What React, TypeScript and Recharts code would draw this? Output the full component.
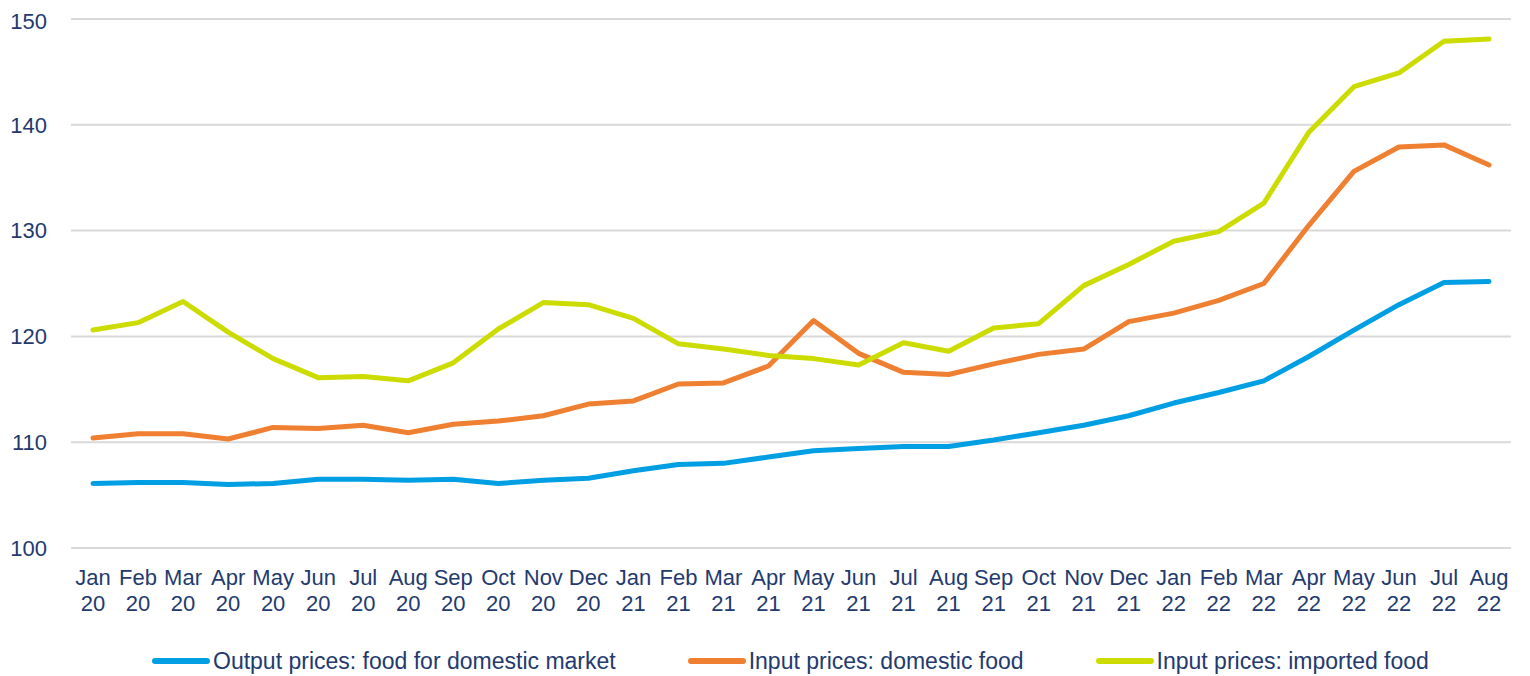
import { LineChart, Line, XAxis, YAxis, CartesianGrid, Legend } from 'recharts';

const months = [
    'Jan 20', 'Feb 20', 'Mar 20', 'Apr 20', 'May 20', 'Jun 20', 'Jul 20', 'Aug 20', 'Sep 20', 'Oct 20', 'Nov 20', 'Dec 20',
    'Jan 21', 'Feb 21', 'Mar 21', 'Apr 21', 'May 21', 'Jun 21', 'Jul 21', 'Aug 21', 'Sep 21', 'Oct 21', 'Nov 21', 'Dec 21',
    'Jan 22', 'Feb 22', 'Mar 22', 'Apr 22', 'May 22', 'Jun 22', 'Jul 22', 'Aug 22',
];

const outputDomestic = [
    106.1, 106.2, 106.2, 106.0, 106.1, 106.5, 106.5, 106.4, 106.5, 106.1, 106.4, 106.6,
    107.3, 107.9, 108.0, 108.6, 109.2, 109.4, 109.6, 109.6, 110.2, 110.9, 111.6, 112.5,
    113.7, 114.7, 115.8, 118.1, 120.6, 123.0, 125.1, 125.2,
];

const inputDomestic = [
    110.4, 110.8, 110.8, 110.3, 111.4, 111.3, 111.6, 110.9, 111.7, 112.0, 112.5, 113.6,
    113.9, 115.5, 115.6, 117.2, 121.5, 118.4, 116.6, 116.4, 117.4, 118.3, 118.8, 121.4,
    122.2, 123.4, 125.0, 130.5, 135.6, 137.9, 138.1, 136.2,
];

const inputImported = [
    120.6, 121.3, 123.3, 120.4, 117.9, 116.1, 116.2, 115.8, 117.5, 120.7, 123.2, 123.0,
    121.7, 119.3, 118.8, 118.2, 117.9, 117.3, 119.4, 118.6, 120.8, 121.2, 124.8, 126.8,
    129.0, 129.9, 132.6, 139.3, 143.6, 144.9, 147.9, 148.1,
];

const yTicks = [100, 110, 120, 130, 140, 150];

const seriesNames = [
    'Output prices: food for domestic market',
    'Input prices: domestic food',
    'Input prices: imported food',
];

const data = months.map((m, i) => ({
    month: m,
    output: outputDomestic[i],
    inputDom: inputDomestic[i],
    inputImp: inputImported[i],
}));

const textColor = '#233a6e';
const font = '"Liberation Sans", Arial, sans-serif';

const MonthTick = (props: any) => {
    const { x, y, payload } = props;
    const [mon, yr] = String(payload.value).split(' ');
    return (
        <text x={x} y={y} textAnchor="middle" fill={textColor} fontSize={22} fontFamily={font}>
            <tspan x={x} dy={29}>{mon}</tspan>
            <tspan x={x} dy={26}>{yr}</tspan>
        </text>
    );
};

const LegendContent = (props: any) => {
    const items = [...(props.payload || [])].sort(
        (a: any, b: any) => seriesNames.indexOf(a.value) - seriesNames.indexOf(b.value)
    );
    return (
        <div style={{ display: 'flex', height: 30, alignItems: 'center', paddingLeft: 144, fontFamily: font, fontSize: 23, color: textColor, whiteSpace: 'nowrap' }}>
            {items.map((p: any, i: number) => (
                <div key={i} style={{ display: 'flex', alignItems: 'center', marginRight: 72 }}>
                    <svg width={58} height={10} style={{ marginRight: 3 }}>
                        <line x1={3} y1={5} x2={55} y2={5} stroke={p.color} strokeWidth={6} strokeLinecap="round" />
                    </svg>
                    <span>{p.value}</span>
                </div>
            ))}
        </div>
    );
};

export default function App() {
    return (
        <LineChart
            width={1514}
            height={668}
            data={data}
            margin={{ top: 11, right: 11, left: 0, bottom: 0 }}
        >
            <CartesianGrid vertical={false} stroke="#d9d9d9" strokeWidth={2} />
            <XAxis
                dataKey="month"
                axisLine={false}
                tickLine={false}
                interval={0}
                height={98}
                padding={{ left: 22, right: 22 }}
                tick={<MonthTick />}
            />
            <YAxis
                domain={[100, 150]}
                ticks={yTicks}
                width={63}
                axisLine={false}
                tickLine={false}
                tickMargin={18}
                tick={{ fill: textColor, fontSize: 22, fontFamily: font }}
            />
            <Legend verticalAlign="bottom" height={30} content={<LegendContent />} />
            <Line type="linear" dataKey="output" name={seriesNames[0]} stroke="#009fe3" strokeWidth={5} dot={false} strokeLinecap="round" strokeLinejoin="round" isAnimationActive={false} />
            <Line type="linear" dataKey="inputDom" name={seriesNames[1]} stroke="#ef7f31" strokeWidth={5} dot={false} strokeLinecap="round" strokeLinejoin="round" isAnimationActive={false} />
            <Line type="linear" dataKey="inputImp" name={seriesNames[2]} stroke="#cddc00" strokeWidth={5} dot={false} strokeLinecap="round" strokeLinejoin="round" isAnimationActive={false} />
        </LineChart>
    );
}
